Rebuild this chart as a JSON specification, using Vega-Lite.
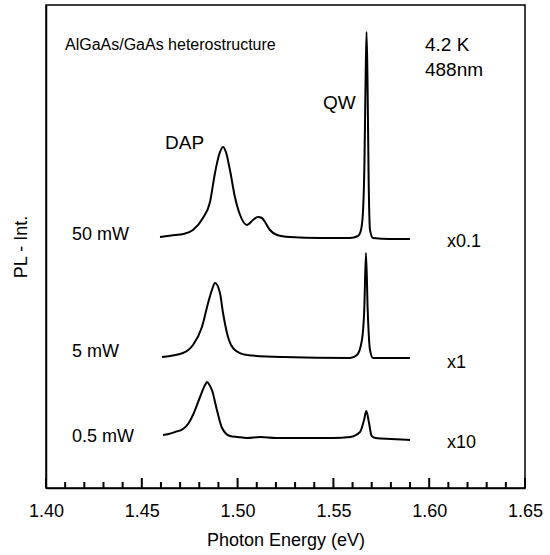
{
  "$schema": "https://vega.github.io/schema/vega-lite/v6.json",
  "width": 479,
  "height": 483,
  "autosize": "none",
  "padding": {"left": 46, "top": 5, "right": 25, "bottom": 67},
  "background": "white",
  "config": {
    "view": {"stroke": "black", "strokeWidth": 1.5},
    "font": "Liberation Sans"
  },
  "datasets": {
    "spectra": [
      {"s": "50 mW", "E": 1.4595, "I": 251},
      {"s": "50 mW", "E": 1.4673, "I": 253},
      {"s": "50 mW", "E": 1.4715, "I": 254},
      {"s": "50 mW", "E": 1.4767, "I": 258},
      {"s": "50 mW", "E": 1.4819, "I": 270},
      {"s": "50 mW", "E": 1.4856, "I": 286},
      {"s": "50 mW", "E": 1.4882, "I": 315},
      {"s": "50 mW", "E": 1.4903, "I": 333},
      {"s": "50 mW", "E": 1.4924, "I": 341},
      {"s": "50 mW", "E": 1.4939, "I": 336},
      {"s": "50 mW", "E": 1.4960, "I": 318},
      {"s": "50 mW", "E": 1.4986, "I": 291},
      {"s": "50 mW", "E": 1.5013, "I": 273},
      {"s": "50 mW", "E": 1.5049, "I": 263},
      {"s": "50 mW", "E": 1.5080, "I": 268},
      {"s": "50 mW", "E": 1.5106, "I": 271},
      {"s": "50 mW", "E": 1.5127, "I": 270},
      {"s": "50 mW", "E": 1.5143, "I": 266},
      {"s": "50 mW", "E": 1.5169, "I": 258},
      {"s": "50 mW", "E": 1.5206, "I": 253},
      {"s": "50 mW", "E": 1.5273, "I": 251},
      {"s": "50 mW", "E": 1.5430, "I": 250},
      {"s": "50 mW", "E": 1.5587, "I": 250},
      {"s": "50 mW", "E": 1.5628, "I": 252},
      {"s": "50 mW", "E": 1.5644, "I": 258},
      {"s": "50 mW", "E": 1.5654, "I": 275},
      {"s": "50 mW", "E": 1.5662, "I": 325},
      {"s": "50 mW", "E": 1.5668, "I": 408},
      {"s": "50 mW", "E": 1.5673, "I": 456},
      {"s": "50 mW", "E": 1.5678, "I": 408},
      {"s": "50 mW", "E": 1.5684, "I": 308},
      {"s": "50 mW", "E": 1.5691, "I": 258},
      {"s": "50 mW", "E": 1.5707, "I": 250},
      {"s": "50 mW", "E": 1.5795, "I": 249},
      {"s": "50 mW", "E": 1.5900, "I": 249},
      {"s": "5 mW", "E": 1.4605, "I": 131},
      {"s": "5 mW", "E": 1.4715, "I": 135},
      {"s": "5 mW", "E": 1.4767, "I": 143},
      {"s": "5 mW", "E": 1.4814, "I": 161},
      {"s": "5 mW", "E": 1.4846, "I": 185},
      {"s": "5 mW", "E": 1.4866, "I": 198},
      {"s": "5 mW", "E": 1.4882, "I": 205},
      {"s": "5 mW", "E": 1.4908, "I": 195},
      {"s": "5 mW", "E": 1.4924, "I": 175},
      {"s": "5 mW", "E": 1.4950, "I": 151},
      {"s": "5 mW", "E": 1.4986, "I": 138},
      {"s": "5 mW", "E": 1.5049, "I": 133},
      {"s": "5 mW", "E": 1.5237, "I": 131},
      {"s": "5 mW", "E": 1.5587, "I": 130},
      {"s": "5 mW", "E": 1.5623, "I": 133},
      {"s": "5 mW", "E": 1.5649, "I": 148},
      {"s": "5 mW", "E": 1.5661, "I": 178},
      {"s": "5 mW", "E": 1.5670, "I": 235},
      {"s": "5 mW", "E": 1.5679, "I": 178},
      {"s": "5 mW", "E": 1.5691, "I": 138},
      {"s": "5 mW", "E": 1.5707, "I": 130},
      {"s": "5 mW", "E": 1.5900, "I": 130},
      {"s": "0.5 mW", "E": 1.4611, "I": 53},
      {"s": "0.5 mW", "E": 1.4640, "I": 54},
      {"s": "0.5 mW", "E": 1.4673, "I": 56},
      {"s": "0.5 mW", "E": 1.4715, "I": 59},
      {"s": "0.5 mW", "E": 1.4745, "I": 65},
      {"s": "0.5 mW", "E": 1.4767, "I": 73},
      {"s": "0.5 mW", "E": 1.4804, "I": 91},
      {"s": "0.5 mW", "E": 1.4830, "I": 103},
      {"s": "0.5 mW", "E": 1.4840, "I": 106},
      {"s": "0.5 mW", "E": 1.4850, "I": 104},
      {"s": "0.5 mW", "E": 1.4866, "I": 98},
      {"s": "0.5 mW", "E": 1.4892, "I": 78},
      {"s": "0.5 mW", "E": 1.4919, "I": 60},
      {"s": "0.5 mW", "E": 1.4960, "I": 52},
      {"s": "0.5 mW", "E": 1.5000, "I": 51},
      {"s": "0.5 mW", "E": 1.5049, "I": 50},
      {"s": "0.5 mW", "E": 1.5120, "I": 51},
      {"s": "0.5 mW", "E": 1.5200, "I": 50},
      {"s": "0.5 mW", "E": 1.5300, "I": 50},
      {"s": "0.5 mW", "E": 1.5414, "I": 50},
      {"s": "0.5 mW", "E": 1.5500, "I": 50},
      {"s": "0.5 mW", "E": 1.5587, "I": 51},
      {"s": "0.5 mW", "E": 1.5639, "I": 56},
      {"s": "0.5 mW", "E": 1.5660, "I": 68},
      {"s": "0.5 mW", "E": 1.5672, "I": 77},
      {"s": "0.5 mW", "E": 1.5685, "I": 66},
      {"s": "0.5 mW", "E": 1.5700, "I": 52},
      {"s": "0.5 mW", "E": 1.5720, "I": 50},
      {"s": "0.5 mW", "E": 1.5800, "I": 49},
      {"s": "0.5 mW", "E": 1.5900, "I": 48}
    ],
    "labels": [
      {"t": "AlGaAs/GaAs heterostructure", "E": 1.4099, "I": 443, "f": 16},
      {"t": "4.2 K", "E": 1.5978, "I": 443, "f": 19},
      {"t": "488nm", "E": 1.5978, "I": 418, "f": 19},
      {"t": "DAP", "E": 1.4621, "I": 345, "f": 19},
      {"t": "QW", "E": 1.5446, "I": 385, "f": 19},
      {"t": "50 mW", "E": 1.4136, "I": 253, "f": 18},
      {"t": "5 mW", "E": 1.4136, "I": 136, "f": 18},
      {"t": "0.5 mW", "E": 1.4136, "I": 51, "f": 18},
      {"t": "x0.1", "E": 1.6093, "I": 246, "f": 18},
      {"t": "x1", "E": 1.6093, "I": 125, "f": 18},
      {"t": "x10", "E": 1.6093, "I": 45, "f": 18}
    ],
    "ticks": [
      {"E": 1.40, "k": "major"}, {"E": 1.41, "k": "minor"}, {"E": 1.42, "k": "minor"}, {"E": 1.43, "k": "minor"}, {"E": 1.44, "k": "minor"},
      {"E": 1.45, "k": "major"}, {"E": 1.46, "k": "minor"}, {"E": 1.47, "k": "minor"}, {"E": 1.48, "k": "minor"}, {"E": 1.49, "k": "minor"},
      {"E": 1.50, "k": "major"}, {"E": 1.51, "k": "minor"}, {"E": 1.52, "k": "minor"}, {"E": 1.53, "k": "minor"}, {"E": 1.54, "k": "minor"},
      {"E": 1.55, "k": "major"}, {"E": 1.56, "k": "minor"}, {"E": 1.57, "k": "minor"}, {"E": 1.58, "k": "minor"}, {"E": 1.59, "k": "minor"},
      {"E": 1.60, "k": "major"}, {"E": 1.61, "k": "minor"}, {"E": 1.62, "k": "minor"}, {"E": 1.63, "k": "minor"}, {"E": 1.64, "k": "minor"},
      {"E": 1.65, "k": "major"}
    ]
  },
  "layer": [
    {
      "data": {"name": "spectra"},
      "mark": {"type": "line", "color": "black", "strokeWidth": 2, "interpolate": "monotone"},
      "encoding": {
        "x": {
          "field": "E", "type": "quantitative",
          "scale": {"domain": [1.4, 1.65], "nice": false, "zero": false},
          "axis": {
            "orient": "bottom",
            "values": [1.40, 1.45, 1.50, 1.55, 1.60, 1.65],
            "format": ".2f",
            "grid": false,
            "ticks": false,
            "domainColor": "black",
            "domainWidth": 1.5,
            "labelFontSize": 18,
            "labelColor": "black",
            "labelPadding": 14,
            "labelFlush": false,
            "labelOverlap": false,
            "title": "Photon Energy (eV)",
            "titleFontSize": 18,
            "titleFontWeight": "normal",
            "titleColor": "black",
            "titlePadding": 11
          }
        },
        "y": {
          "field": "I", "type": "quantitative",
          "scale": {"domain": [0, 483], "nice": false},
          "axis": {
            "labels": false,
            "ticks": false,
            "grid": false,
            "domainColor": "black",
            "domainWidth": 1.5,
            "title": "PL - Int.",
            "titleFontSize": 18,
            "titleFontWeight": "normal",
            "titleColor": "black",
            "titlePadding": 16
          }
        },
        "detail": {"field": "s", "type": "nominal"}
      }
    },
    {
      "data": {"name": "ticks"},
      "transform": [{"filter": "datum.k == 'major'"}],
      "mark": {"type": "rule", "color": "black", "strokeWidth": 2},
      "encoding": {
        "x": {"field": "E", "type": "quantitative"},
        "y": {"datum": 0},
        "y2": {"datum": 10}
      }
    },
    {
      "data": {"name": "ticks"},
      "transform": [{"filter": "datum.k == 'minor'"}],
      "mark": {"type": "rule", "color": "black", "strokeWidth": 2},
      "encoding": {
        "x": {"field": "E", "type": "quantitative"},
        "y": {"datum": 0},
        "y2": {"datum": 6}
      }
    },
    {
      "data": {"name": "labels"},
      "mark": {"type": "text", "align": "left", "baseline": "middle", "color": "black"},
      "encoding": {
        "x": {"field": "E", "type": "quantitative"},
        "y": {"field": "I", "type": "quantitative"},
        "text": {"field": "t", "type": "nominal"},
        "size": {"field": "f", "type": "quantitative", "scale": null, "legend": null}
      }
    }
  ]
}
